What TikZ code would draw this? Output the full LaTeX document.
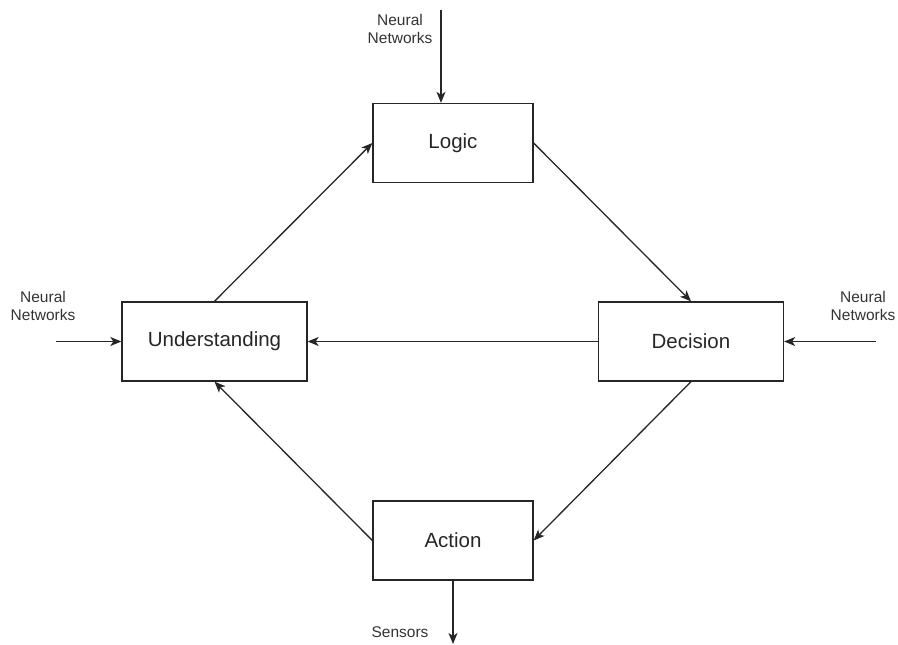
\documentclass[tikz,border=0pt]{standalone}
\usepackage{fontspec}
\setmainfont{Liberation Sans}
\usetikzlibrary{arrows.meta}
\begin{document}
\begin{tikzpicture}[x=1pt,y=-1pt,
 box/.style={draw=black!85, line width=1.3pt, minimum width=160pt, minimum height=79pt, inner sep=0pt, text=black!85, font=\fontsize{20.5}{24}\selectfont},
 wide/.style={box, minimum width=185pt},
 lbl/.style={align=center, text=black!80, font=\fontsize{15.5}{18}\selectfont, inner sep=0pt},
 arr/.style={draw=black!85, line width=1.3pt, -{Stealth[length=11pt,width=9pt,inset=3pt]}}]
\useasboundingbox (0,0) rectangle (898,645);
\node[box] (logic) at (453,143) {Logic};
\node[wide] (und) at (214.5,341.5) {Understanding};
\node[wide] (dec) at (691,341.5) {Decision};
\node[box] (act) at (453,540.5) {Action};
\coordinate (tN) at (441,10);
\coordinate (lN) at (56,341.5);
\coordinate (rN) at (876,341.5);
\coordinate (sN) at (453,644);
\node[lbl] (tlbl) at (400,29) {Neural\\Networks};
\node[lbl] (llbl) at (43,306) {Neural\\Networks};
\node[lbl] (rlbl) at (863,306) {Neural\\Networks};
\node[lbl] (slbl) at (400,632) {Sensors};
\draw[arr] (tN) -- (tN |- logic.north);
\draw[arr] (lN) -- (und.west);
\draw[arr] (rN) -- (dec.east);
\draw[arr] (act.south) -- (sN);
\draw[arr] (und.north) -- (logic.west);
\draw[arr] (logic.east) -- (dec.north);
\draw[arr] (dec.west) -- (und.east);
\draw[arr] (dec.south) -- (act.east);
\draw[arr] (act.west) -- (und.south);
\end{tikzpicture}
\end{document}
